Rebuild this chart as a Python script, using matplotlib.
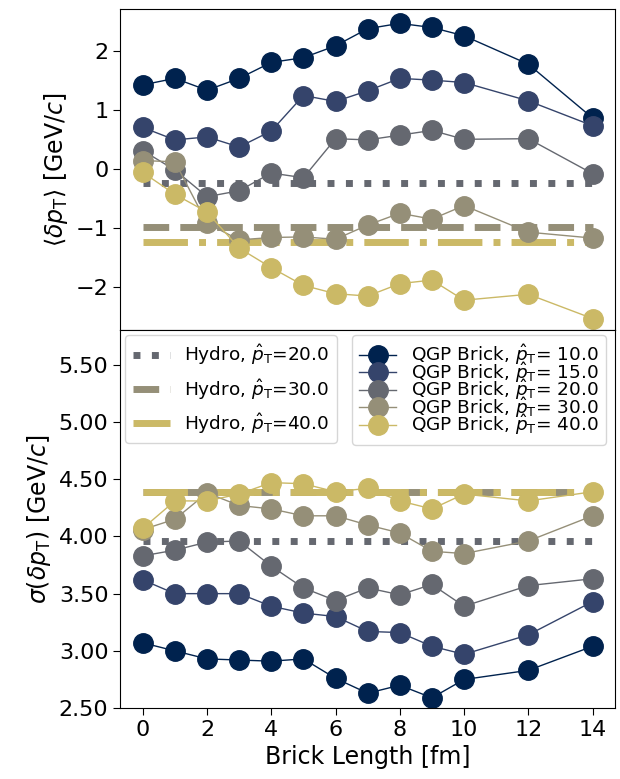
import matplotlib
matplotlib.use('Agg')
import matplotlib.pyplot as plt
from matplotlib.ticker import FormatStrFormatter

# brick lengths
brick_length = [0, 1, 2, 3, 4, 5, 6, 7, 8, 9, 10, 12, 14]
pt_values = [10.0, 15.0, 20.0, 30.0, 40.0]

# mean momentum shift <dpT> for each pT
mean_10 = [1.42, 1.53, 1.33, 1.53, 1.80, 1.88, 2.08, 2.37, 2.46, 2.39, 2.25, 1.77, 0.86]
mean_15 = [0.70, 0.49, 0.54, 0.37, 0.64, 1.24, 1.14, 1.32, 1.53, 1.50, 1.46, 1.15, 0.73]
mean_20 = [0.31, -0.02, -0.47, -0.37, -0.07, -0.15, 0.51, 0.49, 0.57, 0.65, 0.50, 0.51, -0.08]
mean_30 = [0.14, 0.12, -0.92, -1.20, -1.16, -1.15, -1.19, -0.95, -0.75, -0.85, -0.62, -1.07, -1.17]
mean_40 = [-0.06, -0.43, -0.73, -1.34, -1.67, -1.97, -2.11, -2.15, -1.94, -1.88, -2.22, -2.12, -2.53]

# width sigma(dpT) for each pT
sigma_10 = [3.07, 3.00, 2.93, 2.92, 2.91, 2.93, 2.76, 2.63, 2.70, 2.59, 2.75, 2.83, 3.04]
sigma_15 = [3.62, 3.50, 3.50, 3.50, 3.39, 3.33, 3.30, 3.17, 3.16, 3.04, 2.97, 3.14, 3.43]
sigma_20 = [3.83, 3.88, 3.95, 3.96, 3.74, 3.55, 3.44, 3.55, 3.49, 3.58, 3.39, 3.57, 3.63]
sigma_30 = [4.06, 4.15, 4.38, 4.27, 4.24, 4.18, 4.18, 4.10, 4.03, 3.87, 3.85, 3.96, 4.18]
sigma_40 = [4.07, 4.31, 4.31, 4.37, 4.47, 4.46, 4.39, 4.42, 4.31, 4.24, 4.37, 4.31, 4.39]

# hydro reference values (pT = 20, 30, 40)
hydro_pt = [20.0, 30.0, 40.0]
hydro_mean = [-0.24, -0.99, -1.23]
hydro_sigma = [3.96, 4.39, 4.39]

colors = ['#00224e', '#35446b', '#656870', '#958f78', '#cbb966']
hydro_colors = ['#656870', '#958f78', '#cbb966']
hydro_styles = [':', '--', '-.']

mean_list = [mean_10, mean_15, mean_20, mean_30, mean_40]
sigma_list = [sigma_10, sigma_15, sigma_20, sigma_30, sigma_40]

plt.rcParams['font.family'] = 'DejaVu Sans'
fig, (ax1, ax2) = plt.subplots(2, 1, figsize=(6.2, 7.79), dpi=100, sharex=True,
                               gridspec_kw={'height_ratios': [322, 378]})
fig.subplots_adjust(left=0.194, right=0.992, top=0.989, bottom=0.091, hspace=0)

x_hydro = [brick_length[0], brick_length[-1]]
for ax, hvals in [(ax1, hydro_mean), (ax2, hydro_sigma)]:
    for i in range(len(hydro_pt)):
        ax.plot(x_hydro, [hvals[i], hvals[i]], linestyle=hydro_styles[i], lw=5,
                color=hydro_colors[i], label=r'Hydro, $\hat{p}_{\rm T}$=%.1f' % hydro_pt[i])

handles = []
for i in range(len(pt_values)):
    ax1.plot(brick_length, mean_list[i], marker='o', ms=14, lw=1, color=colors[i])
    h, = ax2.plot(brick_length, sigma_list[i], marker='o', ms=14, lw=1, color=colors[i],
                  label=r'QGP Brick, $\hat{p}_{\rm T}$= %.1f' % pt_values[i])
    handles.append(h)

ax1.set_ylim(-2.73, 2.71)
ax1.set_yticks([-2, -1, 0, 1, 2])
ax2.set_ylim(2.5, 5.8)
ax2.set_yticks([2.5, 3.0, 3.5, 4.0, 4.5, 5.0, 5.5])
ax2.yaxis.set_major_formatter(FormatStrFormatter('%.2f'))
ax2.set_xticks([0, 2, 4, 6, 8, 10, 12, 14])
ax2.set_xlim(-0.7, 14.7)

for ax in (ax1, ax2):
    ax.tick_params(labelsize=16, direction='out', length=5)
ax1.set_ylabel(r'$\langle\delta p_{\rm T}\rangle$ [GeV/$c$]', fontsize=17)
ax2.set_ylabel(r'$\sigma(\delta p_{\rm T})$ [GeV/$c$]', fontsize=17)
ax2.set_xlabel('Brick Length [fm]', fontsize=17)

hydro_handles = ax2.get_lines()[:3]
leg1 = ax2.legend(handles=hydro_handles, loc='upper left', fontsize=13.3,
                  handlelength=2, borderaxespad=0, bbox_to_anchor=(0.01, 0.987))
ax2.add_artist(leg1)
ax2.legend(handles=handles, loc='upper right', fontsize=13.3, labelspacing=-0.4,
           handlelength=2, borderaxespad=0, bbox_to_anchor=(0.982, 0.987))

fig.savefig('out.png', dpi=100)
